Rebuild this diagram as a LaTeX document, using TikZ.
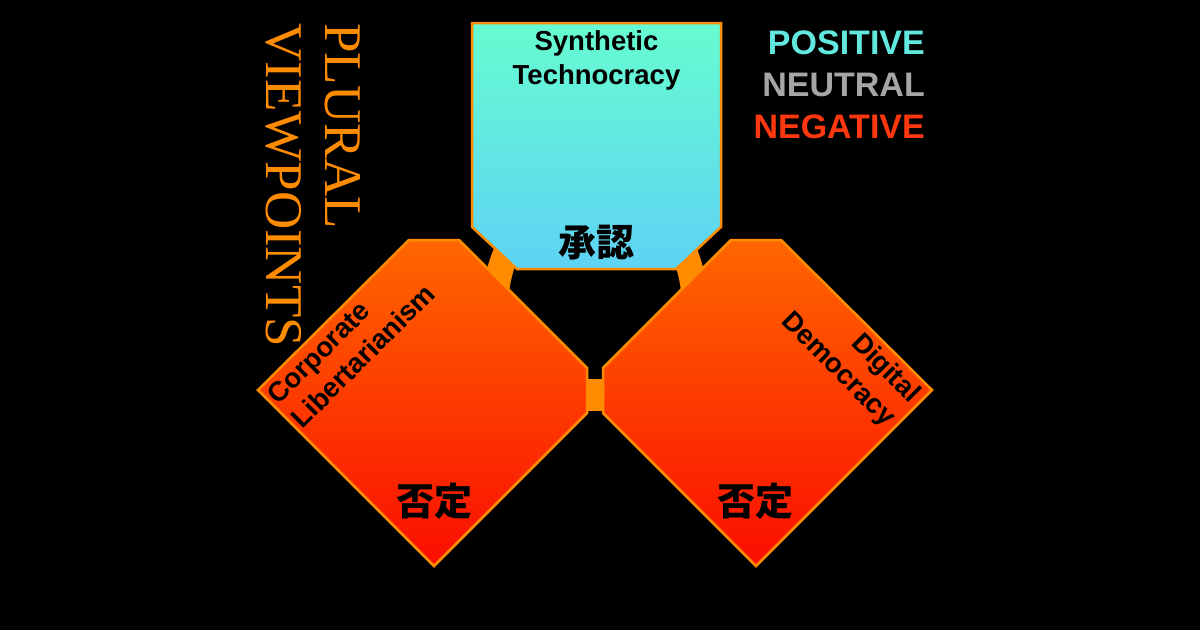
\documentclass[tikz,border=0pt]{standalone}
\usepackage{fontspec}
\setmainfont{Liberation Sans}
\newfontfamily\titlefont{Liberation Serif}
\newfontfamily\jpfont{Noto Sans CJK JP}
\definecolor{rim}{RGB}{255,140,0}
\definecolor{posc}{RGB}{98,232,222}
\definecolor{neuc}{RGB}{166,166,166}
\definecolor{negc}{RGB}{255,56,16}
\definecolor{aquatop}{RGB}{102,252,208}
\definecolor{aquabot}{RGB}{94,210,245}
\definecolor{redtop}{RGB}{255,102,0}
\definecolor{redbot}{RGB}{250,14,0}

\begin{document}
\begin{tikzpicture}[x=1pt, y=-1pt,
            posbox/.style={draw=rim, line width=2.5pt, top color=aquatop, bottom color=aquabot},
            negbox/.style={draw=rim, line width=2.5pt, top color=redtop, bottom color=redbot},
            link/.style={draw=rim, line width=26pt},
            label/.style={font=\bfseries\fontsize{27.5}{34}\selectfont, inner sep=0pt},
            kanji/.style={font=\jpfont\bfseries\fontsize{38}{38}\selectfont, inner sep=0pt},
            legend/.style={font=\bfseries\fontsize{34}{34}\selectfont, inner sep=0pt, anchor=base east}]
            \fill[black] (0,0) rectangle (1200,630);
            \useasboundingbox (0,0) rectangle (1200,630);
            
            % ends of the orange links, hidden under the boxes
            \coordinate (tbox-sw) at (512,240);
            \coordinate (tbox-se) at (679,240);
            \foreach \s/\n in {-1/ldia, 1/rdia}
            {
            \coordinate (\n-top) at (595+\s*100,300);
            \coordinate (\n-in) at (595+\s*20,395);
            }
            
            \draw[link] (tbox-sw) to[bend right=10] (ldia-top);
            \draw[link] (tbox-se) to[bend left=10] (rdia-top);
            \draw[link, line width=32pt] (ldia-in) -- (rdia-in);
            
            \path[posbox] (472,23) -- (721,23) -- (721,227) -- (676,269) -- (517,269) -- (472,227) -- cycle;
            
            \foreach \s in {-1, 1}
            \path[negbox, shift={(595,0)}, xscale=\s] (136,240) -- (186,240) -- (337,390) -- (161,566) -- (8,413) -- (8,368) -- cycle;
            
            \node[kanji] (yes) at (596.5,243) {承認};
            \foreach \s/\n in {-1/ldia, 1/rdia}
            \node[kanji] (\n-no) at (595+\s*160.5,501) {否定};
            
            \node[label, align=center, anchor=north] (synth) at (596.5,30) {Synthetic\\Technocracy};
            \node[label, align=left, rotate=45] (corp) at (351,344) {Corporate\\Libertarianism};
            \node[label, align=right, rotate=-45] (digi) at (850,358) {Digital\\Democracy};
            
            \node[font=\titlefont\fontsize{53}{59}\selectfont, text=rim, align=left, rotate=-90, anchor=north west, inner sep=0pt] (plural) at (361,23) {PLURAL\\VIEWPOINTS};
            
            \foreach \t/\c [count=\i] in {POSITIVE/posc, NEUTRAL/neuc, NEGATIVE/negc}
            \node[legend, text=\c] (leg\i) at (925,12+42*\i) {\t};
        \end{tikzpicture}
\end{document}
